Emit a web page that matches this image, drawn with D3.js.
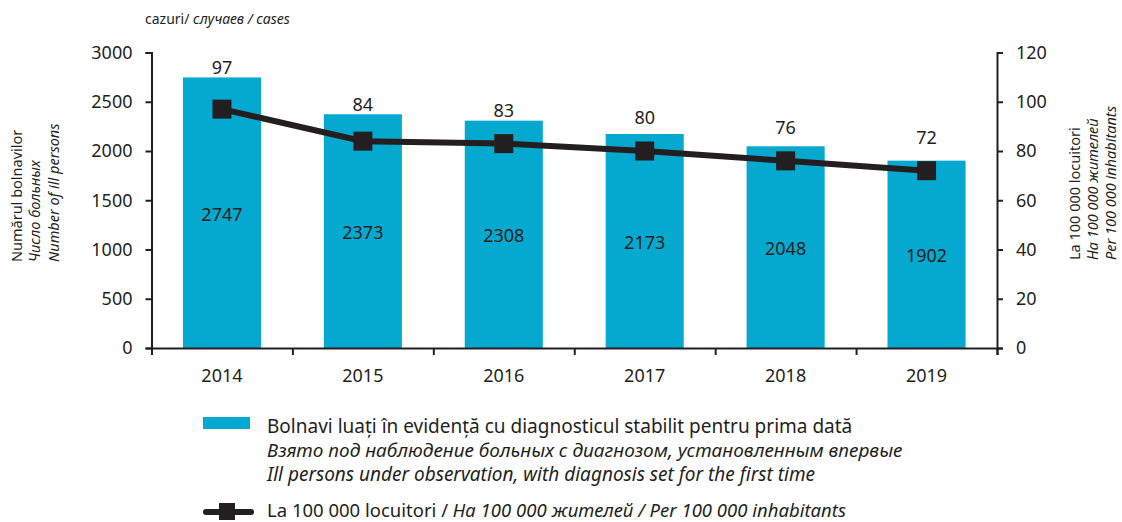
<!DOCTYPE html>
<html>
<head>
<meta charset="utf-8">
<script src="https://cdn.jsdelivr.net/npm/d3@7"></script>
<style>
  body { margin: 0; background: #fff; }
  svg { display: block; font-family: "Noto Sans", "Open Sans", sans-serif; }
  text { fill: #231f20; }
</style>
</head>
<body>
<div class="viz"></div>
<script>
var years = ["2014", "2015", "2016", "2017", "2018", "2019"];
var cases = [2747, 2373, 2308, 2173, 2048, 1902];
var rates = [97, 84, 83, 80, 76, 72];
var leftTicks = [0, 500, 1000, 1500, 2000, 2500, 3000];
var rightTicks = [0, 20, 40, 60, 80, 100, 120];
var leftTitle = ["Numărul bolnavilor", "Число больных", "Number of ill persons"];
var rightTitle = ["La 100 000 locuitori", "На 100 000 жителей", "Per 100 000 inhabitants"];
var barLegend = [
    "Bolnavi luați în evidență cu diagnosticul stabilit pentru prima dată",
    "Взято под наблюдение больных с диагнозом, установленным впервые",
    "Ill persons under observation, with diagnosis set for the first time"
];
var lineLegend = ["La 100 000 locuitori / ", "На 100 000 жителей / Per 100 000 inhabitants"];

var width = 1122,
    height = 522,
    plotLeft = 151.5,
    plotRight = 997,
    plotTop = 52.5,
    plotBottom = 348;

var ink = "#231f20",
    barColor = "#05a9d0";

var svg = d3.select(".viz").append("svg")
    .attr("width", width)
    .attr("height", height);

var x = d3.scaleBand()
    .domain(years)
    .range([plotLeft, plotRight])
    .paddingInner(0.446)
    .paddingOuter(0.223);

var xEdge = d3.scaleLinear()
    .domain([0, years.length])
    .range([plotLeft, plotRight]);

var yLeft = d3.scaleLinear()
    .domain([0, 3000])
    .range([plotBottom, plotTop]);

var yRight = d3.scaleLinear()
    .domain([0, 120])
    .range([plotBottom, plotTop]);

function cx(d) { return x(d) + x.bandwidth() / 2; }

// bars
svg.append("g").selectAll("rect")
    .data(cases)
    .join("rect")
    .attr("x", function(d, i) { return x(years[i]); })
    .attr("y", function(d) { return yLeft(d); })
    .attr("width", x.bandwidth())
    .attr("height", function(d) { return yLeft(0) - yLeft(d); })
    .attr("fill", barColor);

// axes
function styleAxis(g) {
    g.attr("font-family", null).attr("font-size", null);
    g.selectAll("path, line").attr("stroke", ink).attr("stroke-width", 2);
    g.selectAll("text").attr("fill", ink).style("font-size", "18px");
}

svg.append("g")
    .attr("transform", "translate(" + plotLeft + ",0)")
    .call(d3.axisLeft(yLeft).tickValues(leftTicks).tickFormat(d3.format("d")).tickSize(6).tickPadding(13))
    .call(styleAxis);

svg.append("g")
    .attr("transform", "translate(" + plotRight + ",0)")
    .call(d3.axisRight(yRight).tickValues(rightTicks).tickFormat(d3.format("d")).tickSize(6).tickPadding(13))
    .call(styleAxis);

svg.append("g")
    .attr("transform", "translate(0," + plotBottom + ")")
    .call(d3.axisBottom(xEdge).ticks(years.length).tickSize(7).tickFormat(""))
    .call(styleAxis);

svg.append("g")
    .attr("transform", "translate(0," + plotBottom + ")")
    .call(d3.axisBottom(x).tickSize(0).tickPadding(21))
    .call(styleAxis)
    .call(function(g) { g.select(".domain").remove(); });

// labels inside bars
svg.append("g").selectAll("text")
    .data(cases)
    .join("text")
    .attr("x", function(d, i) { return cx(years[i]); })
    .attr("y", function(d) { return (yLeft(d) + yLeft(0)) / 2 + 8; })
    .attr("text-anchor", "middle")
    .style("font-size", "18px")
    .text(function(d) { return d; });

// rate line
var line = d3.line()
    .x(function(d, i) { return cx(years[i]); })
    .y(function(d) { return yRight(d); });

svg.append("path")
    .datum(rates)
    .attr("d", line)
    .attr("fill", "none")
    .attr("stroke", ink)
    .attr("stroke-width", 6);

var mk = 19;
svg.append("g").selectAll("rect")
    .data(rates)
    .join("rect")
    .attr("x", function(d, i) { return cx(years[i]) - mk / 2; })
    .attr("y", function(d) { return yRight(d) - mk / 2; })
    .attr("width", mk)
    .attr("height", mk)
    .attr("fill", ink);

// rate labels: above the bar, kept clear of the marker
svg.append("g").selectAll("text")
    .data(rates)
    .join("text")
    .attr("x", function(d, i) { return cx(years[i]); })
    .attr("y", function(d, i) { return Math.min(yLeft(cases[i]) - 3, yRight(d) - 27); })
    .attr("text-anchor", "middle")
    .style("font-size", "18px")
    .text(function(d) { return d; });

// unit title
var unit = svg.append("text")
    .attr("x", 145)
    .attr("y", 24)
    .style("font-size", "14px");
unit.append("tspan").text("cazuri/ ");
unit.append("tspan").style("font-style", "italic").text("случаев / cases");

// axis titles
svg.append("g").selectAll("text")
    .data(leftTitle)
    .join("text")
    .attr("transform", function(d, i) { return "translate(" + (21.5 + i * 18.5) + ",262) rotate(-90)"; })
    .style("font-size", "14.5px")
    .style("font-style", function(d, i) { return i ? "italic" : "normal"; })
    .text(function(d) { return d; });

svg.append("g").selectAll("text")
    .data(rightTitle)
    .join("text")
    .attr("transform", function(d, i) { return "translate(" + (1080 + i * 18) + ",260) rotate(-90)"; })
    .style("font-size", "14.5px")
    .style("font-style", function(d, i) { return i ? "italic" : "normal"; })
    .text(function(d) { return d; });

// legend
var legend = svg.append("g");

legend.append("rect")
    .attr("x", 203)
    .attr("y", 417)
    .attr("width", 47)
    .attr("height", 12)
    .attr("fill", barColor);

legend.selectAll("text.bar")
    .data(barLegend)
    .join("text")
    .attr("class", "bar")
    .attr("x", 267)
    .attr("y", function(d, i) { return 433 + i * 24; })
    .style("font-size", "19px")
    .style("font-style", function(d, i) { return i ? "italic" : "normal"; })
    .text(function(d) { return d; });

legend.append("line")
    .attr("x1", 206)
    .attr("x2", 251)
    .attr("y1", 512)
    .attr("y2", 512)
    .attr("stroke", ink)
    .attr("stroke-width", 6)
    .attr("stroke-linecap", "round");

legend.append("rect")
    .attr("x", 219)
    .attr("y", 503)
    .attr("width", 16)
    .attr("height", 17)
    .attr("fill", ink);

var lt = legend.append("text")
    .attr("x", 267)
    .attr("y", 517)
    .style("font-size", "18.5px");
lt.append("tspan").text(lineLegend[0]);
lt.append("tspan").style("font-style", "italic").text(lineLegend[1]);
</script>
</body>
</html>
